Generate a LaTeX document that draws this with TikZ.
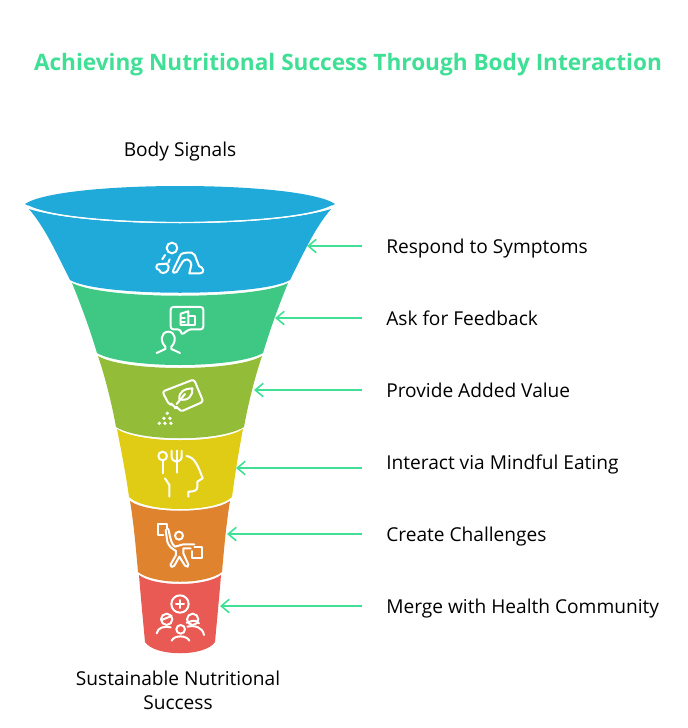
\documentclass[tikz,border=0pt]{standalone}
\usepackage{fontspec}
\setmainfont{Open Sans}
\usetikzlibrary{arrows.meta}
\definecolor{titlegreen}{HTML}{3FDF96}
\definecolor{bandblue}{HTML}{1FAADA}
\definecolor{bandgreen}{HTML}{3FC784}
\definecolor{bandolive}{HTML}{93BD39}
\definecolor{bandyellow}{HTML}{E0CC14}
\definecolor{bandorange}{HTML}{DF832E}
\definecolor{bandred}{HTML}{E85A53}
\tikzset{
  band/.style={draw=none},
  icon/.style={draw=white, line width=1.5pt, line cap=round, line join=round},
  stagetext/.style={font=\fontsize{14.35}{18}\selectfont, inner sep=0pt, anchor=west, text=black, text height=13pt, text depth=2.4pt},
  endtext/.style={font=\fontsize{14.35}{18}\selectfont, inner sep=0pt, align=center, text=black},
  pointer/.style={draw=titlegreen, line width=1.2pt, shorten <=18pt, -{Straight Barb[length=6pt,width=10pt]}},
}
\begin{document}
\begin{tikzpicture}[x=0.75pt,y=-0.75pt]
  \useasboundingbox (0,0) rectangle (688,728);

  % Titre
  \node[font=\bfseries\fontsize{16.95}{22}\selectfont, text=titlegreen, inner sep=0pt, text height=15pt, text depth=2.7pt] (title) at (348,62) {Achieving Nutritional Success Through Body Interaction};

  % Entonnoir
  \fill[band, bandblue] (29,209) .. controls (45,228) and (55,250) .. (70,280) .. controls (100,297) and (260,297) .. (290,280) .. controls (305,250) and (315,228) .. (331,209) .. controls (270,228) and (90,228) .. (29,209) -- cycle;
  \fill[band, bandblue] (25,204) .. controls (60,180) and (300,180) .. (335,204) .. controls (300,228) and (60,228) .. (25,204) -- cycle;
  \draw[white, line width=1pt] (28,206) .. controls (70,228) and (290,228) .. (332,206);
  \fill[band, bandgreen] (72,283) .. controls (105,300) and (255,300) .. (288,283) .. controls (277,310) and (270,330) .. (263,353) .. controls (235,369) and (125,369) .. (97,353) .. controls (90,330) and (83,310) .. (72,283) -- cycle;
  \fill[band, bandolive] (98,356) .. controls (125,372) and (235,372) .. (262,356) .. controls (254,380) and (248,405) .. (244,427) .. controls (220,442) and (140,442) .. (116,427) .. controls (112,405) and (106,380) .. (98,356) -- cycle;
  \fill[band, bandyellow] (117,429) .. controls (140,444) and (220,444) .. (243,429) .. controls (238,455) and (235,475) .. (232,497) .. controls (215,513) and (146,513) .. (129,497) .. controls (126,475) and (122,455) .. (117,429) -- cycle;
  \fill[band, bandorange] (130,501) .. controls (148,514) and (212,514) .. (230,501) .. controls (226,525) and (224,550) .. (222,572) .. controls (205,585) and (155,585) .. (138,572) .. controls (136,550) and (134,525) .. (130,501) -- cycle;
  \fill[band, bandred] (139,575) .. controls (155,587) and (205,587) .. (221,575) .. controls (219,600) and (217,620) .. (215,642) .. controls (205,657) and (155,657) .. (145,642) .. controls (143,620) and (141,600) .. (139,575) -- cycle;

  % Icone 1
  \begin{scope}[shift={(0,170)},scale=0.3333]
    \draw[icon] (516,234) circle (16);
    \draw[icon] (487,268) -- (495,255);
    \draw[icon] (505,278) -- (509,268);
    \draw[icon] (520,300) -- (538,262) .. controls (542,250) and (550,248) .. (560,248) -- (575,248) .. controls (585,250) and (585,258) .. (590,270) -- (597,288) .. controls (612,292) and (615,310) .. (600,310) -- (568,310) -- (574,285) .. controls (572,265) and (555,265) .. (548,275) -- (530,306) .. controls (525,312) and (516,308) .. (520,300);
    \draw[icon] (474,283) -- (500,281) .. controls (508,285) and (507,295) .. (504,300) .. controls (498,312) and (480,312) .. (478,300) .. controls (466,298) and (468,286) .. (474,283);
  \end{scope}

  % Icone 2
  \begin{scope}[shift={(0,170)},scale=0.3333]
    \draw[icon, rounded corners=2pt] (545,495) -- (541,478) -- (512,478) -- (512,411) -- (610,411) -- (610,478) -- (567,478) -- cycle;
    \draw[icon] (542,431) -- (565,424) -- (565,465) -- (542,465) -- cycle;
    \draw[icon] (542,444) -- (555,444);
    \draw[icon] (542,455) -- (555,455);
    \draw[icon] (565,438) -- (586,438) -- (586,465) -- (565,465);
    \draw[icon] (470,549) -- (496,537) -- (496,530) .. controls (480,515) and (482,486) .. (505,485) .. controls (528,486) and (530,515) .. (514,530) -- (514,537) -- (540,549);
  \end{scope}

  % Icone 3
  \begin{scope}[shift={(90,350)},scale=0.3333]
    \draw[icon, rounded corners=2pt] (217,125) -- (312,88) -- (340,155) -- (272,185) -- (262,170) -- (254,175) -- (247,160) -- (238,165) -- cycle;
    \draw[icon] (268,148) .. controls (265,125) and (285,115) .. (307,115) .. controls (310,135) and (295,155) .. (268,148);
    \draw[icon] (260,162) -- (285,132);
    \foreach \dx/\dy in {232/190,222/205,240/205,208/220,225/220,243/220}
      \fill[white] (\dx,\dy) circle (5.5);
  \end{scope}

  % Icone 4
  \begin{scope}[shift={(90,350)},scale=0.3333]
    \draw[icon] (218,318) circle (13);
    \draw[icon] (218,331) -- (218,370);
    \draw[icon] (260,302) -- (260,368);
    \draw[icon] (245,302) -- (245,322) .. controls (245,332) and (260,335) .. (260,335) .. controls (260,335) and (275,332) .. (275,322) -- (275,302);
    \draw[icon] (290,318) .. controls (315,322) and (325,350) .. (338,385) -- (322,395) -- (322,412) .. controls (322,422) and (310,425) .. (295,425) -- (295,440);
    \draw[icon] (225,385) -- (238,405) -- (238,440);
  \end{scope}

  % Icone 5
  \begin{scope}[shift={(150,515)},scale=0.3333]
    \draw[icon] (87,62) circle (12);
    \draw[icon] (133,88) -- (100,88) .. controls (90,88) and (85,95) .. (75,95) .. controls (65,88) and (62,75) .. (55,42);
    \draw[icon] (47,45) -- (52,80) .. controls (57,95) and (65,100) .. (78,108) -- (78,120) -- (62,148) .. controls (60,157) and (70,158) .. (73,152) -- (88,125) -- (105,152) .. controls (110,158) and (118,155) .. (115,148) -- (100,115) -- (100,100) -- (122,100);
    \draw[icon] (50,42) -- (50,28) -- (25,28) -- (25,60) -- (40,60);
    \draw[icon] (133,95) -- (155,95) -- (155,128) -- (125,128) -- (125,108);
  \end{scope}

  % Icone 6
  \begin{scope}[shift={(150,590)},scale=0.3333]
    \draw[icon] (90,42) circle (26);
    \draw[icon] (90,30) -- (90,54);
    \draw[icon] (78,42) -- (102,42);
    \draw[icon] (50,88) circle (17);
    \draw[icon] (35,90) -- (65,78);
    \draw[icon] (20,130) .. controls (25,112) and (40,108) .. (62,112);
    \draw[icon] (92,118) circle (13);
    \draw[icon] (65,152) .. controls (72,135) and (110,135) .. (118,152);
    \draw[icon] (128,88) circle (17);
    \draw[icon] (110,98) .. controls (122,95) and (135,85) .. (147,100);
    \draw[icon] (112,110) .. controls (135,105) and (158,112) .. (162,135);
  \end{scope}

  % Textes
  \node[endtext] (top) at (180,152) {Body Signals};
  \node[endtext] (bottom) at (178,690) {Sustainable Nutritional\\Success};
  \node[stagetext] (lab1) at (386,246) {Respond to Symptoms};
  \node[stagetext] (lab2) at (386,318) {Ask for Feedback};
  \node[stagetext] (lab3) at (386,390) {Provide Added Value};
  \node[stagetext] (lab4) at (386,462) {Interact via Mindful Eating};
  \node[stagetext] (lab5) at (386,534) {Create Challenges};
  \node[stagetext] (lab6) at (386,606) {Merge with Health Community};

  % Flèches
  \coordinate (tip1) at (307,246);
  \coordinate (tip2) at (275,318);
  \coordinate (tip3) at (254,390);
  \coordinate (tip4) at (236,468);
  \coordinate (tip5) at (227,534);
  \coordinate (tip6) at (220,606);
  \foreach \i in {1,...,6}
    \draw[pointer] (lab\i.west |- tip\i) -- (tip\i);
\end{tikzpicture}
\end{document}
